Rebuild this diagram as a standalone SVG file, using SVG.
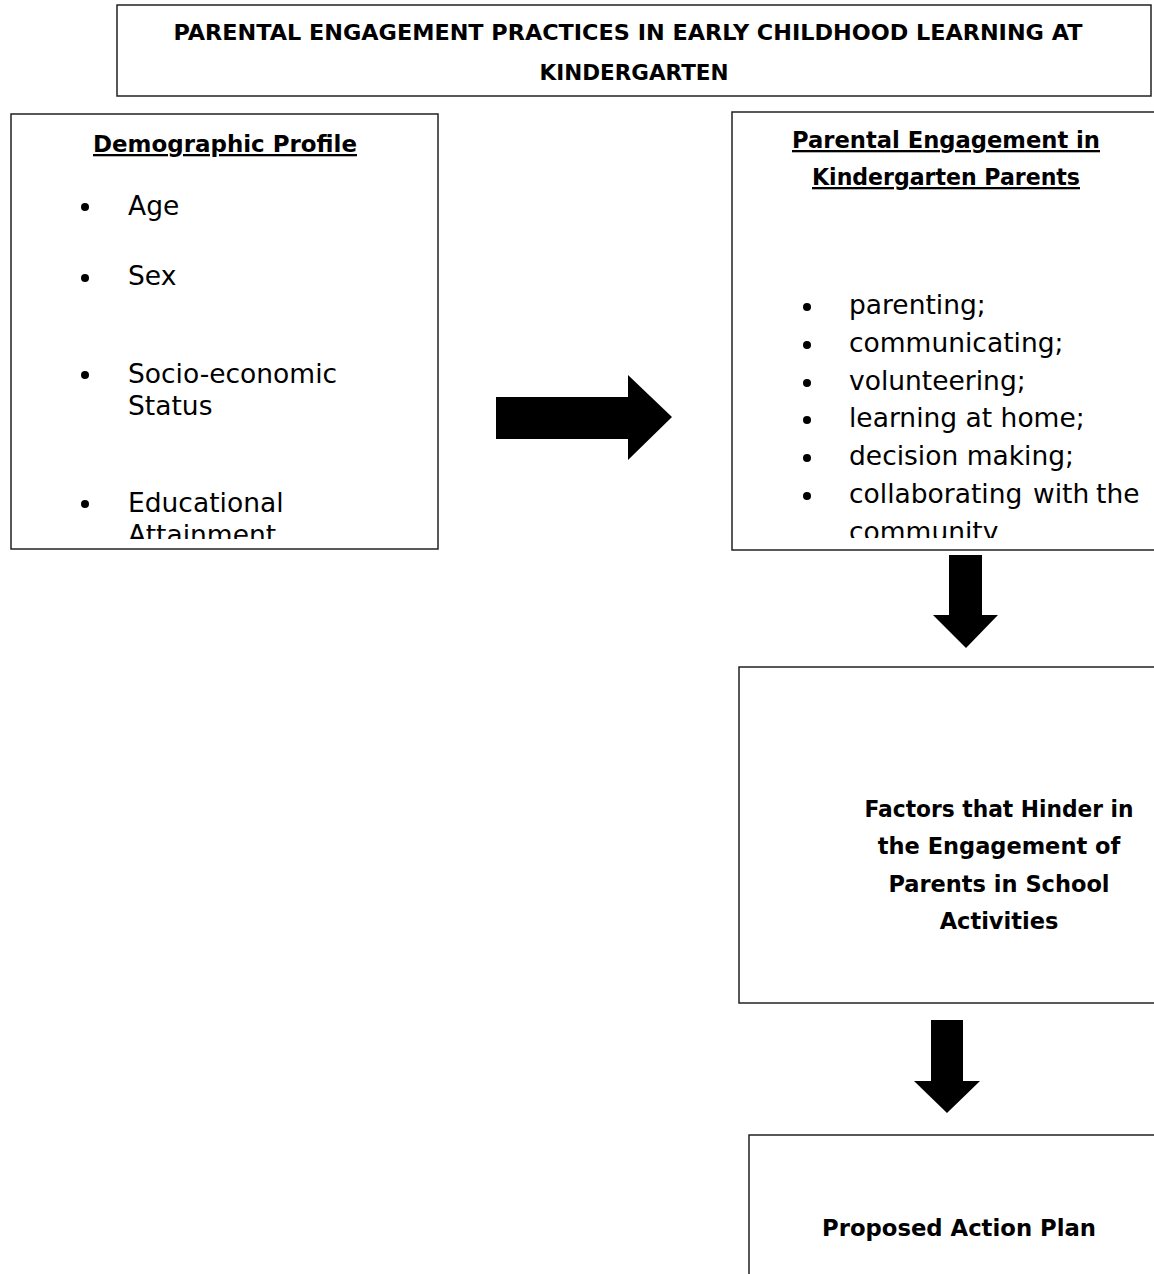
<svg xmlns="http://www.w3.org/2000/svg" width="1154" height="1274" viewBox="0 0 1154 1274">
<style>
.box{fill:#fff;stroke:#222;stroke-width:1.5}
.hd{font-family:"DejaVu Sans","Liberation Sans",sans-serif;font-weight:bold;fill:#000}
.tx{font-family:"DejaVu Sans","Liberation Sans",sans-serif;font-size:26.5px;fill:#000}
.ul{text-decoration:underline}
.arrow{fill:#000}
.dot{fill:#000}
</style>
<defs>
<clipPath id="clipL"><rect x="11" y="114" width="427" height="425"/></clipPath>
<clipPath id="clipR"><rect x="732" y="112" width="430" height="426"/></clipPath>
</defs>
<rect width="1154" height="1274" fill="#fff"/>

<g id="title">
<rect class="box" x="117" y="5" width="1034" height="91"/>
<text class="hd" x="628" y="40" font-size="21.5" text-anchor="middle" textLength="909" lengthAdjust="spacingAndGlyphs">PARENTAL ENGAGEMENT PRACTICES IN EARLY CHILDHOOD LEARNING AT</text>
<text class="hd" x="634" y="80" font-size="21.5" text-anchor="middle">KINDERGARTEN</text>
</g>

<g id="demographic">
<rect class="box" x="11" y="114" width="427" height="435"/>
<text class="hd ul" x="225" y="152" font-size="23" text-anchor="middle" textLength="264" lengthAdjust="spacingAndGlyphs">Demographic Profile</text>
<g clip-path="url(#clipL)">
<circle class="dot" cx="85" cy="207" r="4"/>
<text class="tx" x="128" y="215">Age</text>
<circle class="dot" cx="85" cy="278" r="4"/>
<text class="tx" x="128" y="285">Sex</text>
<circle class="dot" cx="85" cy="375" r="4"/>
<text class="tx" x="128" y="383">Socio-economic</text>
<text class="tx" x="128" y="415">Status</text>
<circle class="dot" cx="85" cy="504" r="4"/>
<text class="tx" x="128" y="512">Educational</text>
<text class="tx" x="128" y="544">Attainment</text>
</g>
</g>

<g id="engagement">
<rect class="box" x="732" y="112" width="440" height="438"/>
<text class="hd ul" x="946" y="148" font-size="23" text-anchor="middle" textLength="308" lengthAdjust="spacingAndGlyphs">Parental Engagement in</text>
<text class="hd ul" x="946" y="185" font-size="23" text-anchor="middle" textLength="268" lengthAdjust="spacingAndGlyphs">Kindergarten Parents</text>
<g clip-path="url(#clipR)">
<circle class="dot" cx="807" cy="307" r="4"/>
<text class="tx" x="849" y="314">parenting;</text>
<circle class="dot" cx="807" cy="345" r="4"/>
<text class="tx" x="849" y="352">communicating;</text>
<circle class="dot" cx="807" cy="383" r="4"/>
<text class="tx" x="849" y="390">volunteering;</text>
<circle class="dot" cx="807" cy="420" r="4"/>
<text class="tx" x="849" y="427">learning at home;</text>
<circle class="dot" cx="807" cy="458" r="4"/>
<text class="tx" x="849" y="465">decision making;</text>
<circle class="dot" cx="807" cy="496" r="4"/>
<text class="tx" y="503"><tspan x="849">collaborating</tspan><tspan x="1033">with</tspan><tspan x="1096">the</tspan></text>
<text class="tx" x="849" y="541">community</text>
</g>
</g>

<g id="factors">
<rect class="box" x="739" y="667" width="440" height="336"/>
<text class="hd" x="999" y="817" font-size="22.5" text-anchor="middle" textLength="269" lengthAdjust="spacingAndGlyphs">Factors that Hinder in</text>
<text class="hd" x="999" y="854" font-size="22.5" text-anchor="middle">the Engagement of</text>
<text class="hd" x="999" y="892" font-size="22.5" text-anchor="middle">Parents in School</text>
<text class="hd" x="999" y="929" font-size="22.5" text-anchor="middle">Activities</text>
</g>

<g id="action-plan">
<rect class="box" x="749" y="1135" width="440" height="160"/>
<text class="hd" x="959" y="1236" font-size="22.5" text-anchor="middle" textLength="274" lengthAdjust="spacingAndGlyphs">Proposed Action Plan</text>
</g>

<g id="connectors">
<polygon class="arrow" points="496,397 628,397 628,375 672,417 628,460 628,439 496,439"/>
<polygon class="arrow" points="949,555 982,555 982,615 998,615 966,648 933,615 949,615"/>
<polygon class="arrow" points="931,1020 963,1020 963,1081 980,1081 947,1113 914,1081 931,1081"/>
</g>
</svg>
